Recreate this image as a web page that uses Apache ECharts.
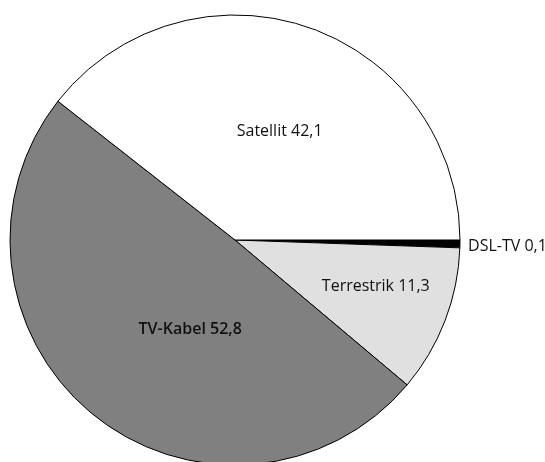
<!DOCTYPE html>
<html>
<head>
<meta charset="utf-8">
<script src="https://cdn.jsdelivr.net/npm/echarts@6/dist/echarts.min.js"></script>
<style>
  html, body { margin: 0; padding: 0; background: #fff; }
  #chart { width: 545px; height: 462px; }
</style>
</head>
<body>
<div id="chart"></div>
<script>
// Empfangswege TV (Anteile, Summe > 100 wegen Mehrfachnennungen)
var names = ['DSL-TV', 'Terrestrik', 'TV-Kabel', 'Satellit'];
var values = [0.1, 11.3, 52.8, 42.1];
var labels = ['DSL-TV 0,1', 'Terrestrik 11,3', 'TV-Kabel 52,8', 'Satellit 42,1'];
var colors = ['#000000', '#e0e0e0', '#808080', '#ffffff'];

var data = names.map(function (n, i) {
  return {
    name: n,
    value: values[i],
    itemStyle: { color: colors[i] },
    label: { formatter: labels[i] }
  };
});
// Beschriftungen etwas verschieben wie im Original
data[0].label.offset = [157, 4];
data[1].label.offset = [33, 5];
data[2].label.offset = [28, 0];
data[2].label.fontWeight = 600;
data[3].label.offset = [7, 1];

var chart = echarts.init(document.getElementById('chart'));
chart.setOption({
  animation: false,
  series: [{
    type: 'pie',
    center: [235, 240],
    radius: 225,
    startAngle: 0,
    clockwise: true,
    minAngle: 2,
    avoidLabelOverlap: false,
    itemStyle: { borderColor: '#000', borderWidth: 1 },
    label: {
      show: true,
      position: 'inside',
      color: '#111',
      fontFamily: 'Open Sans',
      fontSize: 16
    },
    labelLine: { show: false },
    emphasis: { disabled: true },
    data: data
  }]
});
</script>
</body>
</html>
